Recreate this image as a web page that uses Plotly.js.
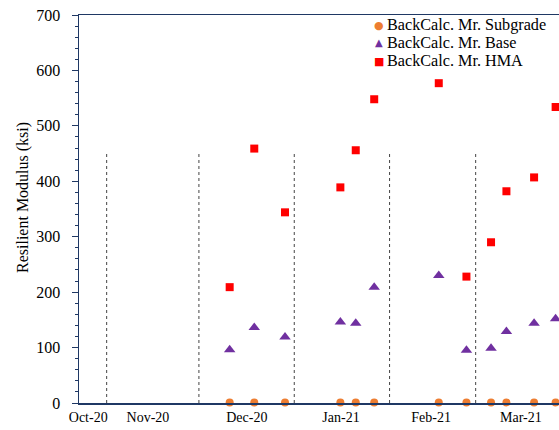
<!DOCTYPE html>
<html>
<head>
<meta charset="utf-8">
<script src="https://cdn.plot.ly/plotly-3.0.1.min.js"></script>
<style>html,body{margin:0;padding:0;background:#fff;overflow:hidden}#chart{width:559px;height:430px}</style>
</head>
<body>
<div id="chart"></div>
<script>
// Test dates
const dates = ['2020-12-11','2020-12-19','2020-12-29','2021-01-16','2021-01-21','2021-01-27',
               '2021-02-17','2021-02-26','2021-03-06','2021-03-11','2021-03-20','2021-03-27'];
// Back-calculated resilient modulus (ksi)
const subgrade = [1, 1, 1, 1, 1, 1, 1, 1, 1, 1, 1, 1];
const base     = [96, 136, 119, 146, 144, 209, 230, 95, 99, 129, 144, 152];
const hma      = [209, 459, 344, 389, 456, 548, 577, 228, 290, 382, 407, 534];
// Series names
const seriesNames = ['BackCalc. Mr. Subgrade', 'BackCalc. Mr. Base', 'BackCalc. Mr. HMA'];
// Month divider lines
const dividers = ['2020-11-01','2020-12-01','2021-01-01','2021-02-01','2021-03-01'];
const dividerTop = 450;
// Tick labels
const tickDates = ['2020-10-26','2020-11-14 10:00','2020-12-16 14:00','2021-01-16 05:00','2021-02-14 12:00','2021-03-15 17:00'];
const tickLabels = ['Oct-20','Nov-20','Dec-20','Jan-21','Feb-21','Mar-21'];

const FONT = 'Liberation Serif';
const NAVY = '#1f3864';
const colors = ['#ed7d31', '#7030a0', '#ff0000'];
const symbols = ['circle', 'triangle-up', 'square'];
const sizes = [8, 10, 8];
const glyphs = ['\u25CF', '\u25B2', '\u25A0'];
const glyphSizes = [11, 10, 11];
const seriesData = [subgrade, base, hma];

const traces = seriesData.map((ys, i) => ({
  x: dates, y: ys, type: 'scatter', mode: 'markers', name: seriesNames[i],
  marker: {symbol: symbols[i], size: sizes[i], color: colors[i]}, cliponaxis: false
}));

const shapes = dividers.map(d => ({
  type: 'line', xref: 'x', yref: 'y', x0: d, x1: d, y0: 0, y1: dividerTop,
  line: {color: '#444', width: 1, dash: 'dot'}, layer: 'below'
}));

// Legend drawn as text (plot area: left 79, width 480, top 15, height 388)
const plotL = 79, plotW = 480, plotB = 403, plotH = 388;
const legMarkX = 379, legTextX = 386, legTopY = 25, legStep = 18;
const annotations = [{text: 'Resilient Modulus (ksi)', xref: 'paper', yref: 'paper',
                 x: (23 - plotL) / plotW, y: (plotB - 198) / plotH, textangle: -90, showarrow: false,
                 xanchor: 'center', yanchor: 'middle',
                 font: {family: FONT, size: 16, color: '#000'}}];
seriesNames.forEach((n, i) => {
  const py = (plotB - (legTopY + i * legStep)) / plotH;
  annotations.push({text: glyphs[i], xref: 'paper', yref: 'paper', x: (legMarkX - plotL) / plotW, y: py,
    xanchor: 'center', yanchor: 'middle', showarrow: false, borderpad: 0,
    font: {family: 'DejaVu Sans', size: glyphSizes[i], color: colors[i]}});
  annotations.push({text: n, xref: 'paper', yref: 'paper', x: (legTextX - plotL) / plotW, y: py,
    xanchor: 'left', yanchor: 'middle', showarrow: false, borderpad: 0,
    font: {family: FONT, size: 16.2, color: '#000'}});
});

const layout = {
  width: 559, height: 430,
  margin: {l: 79, r: 0, t: 15, b: 27},
  paper_bgcolor: '#fff', plot_bgcolor: '#fff',
  font: {family: FONT, color: '#000'},
  showlegend: false,
  xaxis: {type: 'date', range: ['2020-10-23', '2021-03-28 02:24'],
          tickmode: 'array', tickvals: tickDates, ticktext: tickLabels,
          ticks: '', showgrid: false, zeroline: false,
          showline: true, linecolor: NAVY, linewidth: 1.5, mirror: true,
          tickfont: {family: FONT, size: 14, color: '#000'}, ticklabelstandoff: 1},
  yaxis: {range: [0, 700], dtick: 100, tick0: 0, ticks: 'outside', ticklen: 6, tickcolor: NAVY, tickwidth: 1,
          minor: {dtick: 20, ticks: 'outside', ticklen: 3, tickcolor: NAVY, tickwidth: 1},
          showgrid: false, zeroline: false, showline: true, linecolor: NAVY, linewidth: 1.5,
          tickfont: {family: FONT, size: 16, color: '#000'}, ticklabelstandoff: 8},
  shapes: shapes,
  annotations: annotations
};

Plotly.newPlot('chart', traces, layout, {displayModeBar: false, staticPlot: true});
</script>
</body>
</html>
